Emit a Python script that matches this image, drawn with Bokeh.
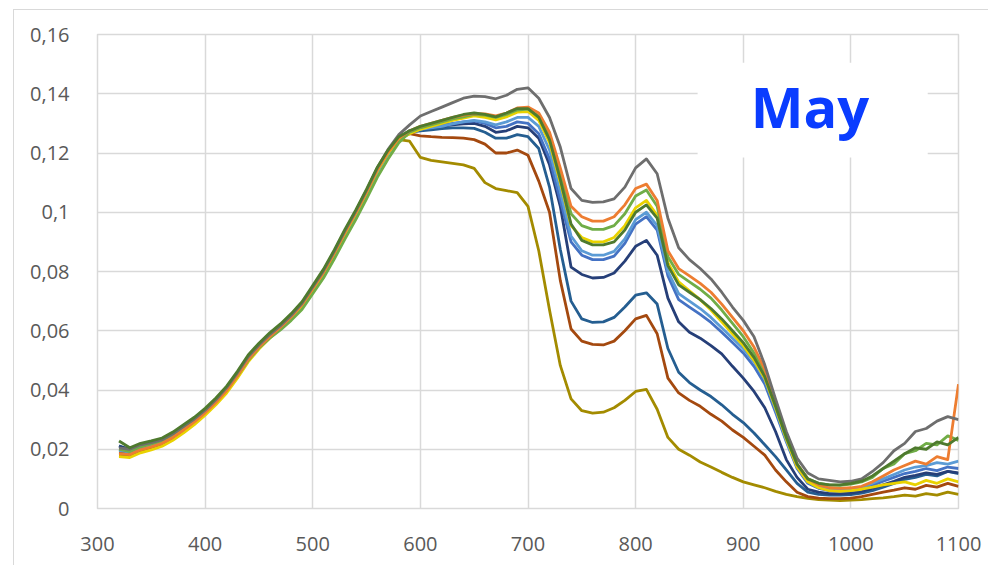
from bokeh.plotting import figure
from bokeh.models import FixedTicker, BoxAnnotation, Label
from bokeh.embed import file_html
from bokeh.resources import INLINE

# Wavelength grid (nm)
wavelength = list(range(320, 1101, 10))

# Reflectance spectra, one list per series (320 ... 1100 nm, 10 nm step)
gray = [0.0205, 0.0200, 0.0215, 0.0222, 0.0232, 0.0252, 0.0277, 0.0302, 0.0332, 0.0367,
        0.0408, 0.0458, 0.0512, 0.0552, 0.0587, 0.0617, 0.0652, 0.0693, 0.0748, 0.0803,
        0.0868, 0.0938, 0.1004, 0.1075, 0.1150, 0.1212, 0.1262, 0.1295,
        0.1325, 0.1340, 0.1355, 0.1370, 0.1385, 0.1392, 0.1390, 0.1383, 0.1395, 0.1415,
        0.1420, 0.1385, 0.1320, 0.1220, 0.1080, 0.1040, 0.1033, 0.1035, 0.1045, 0.1085,
        0.1150, 0.1180, 0.1130, 0.0980, 0.0880, 0.0840, 0.0810, 0.0775, 0.0730, 0.0680,
        0.0635, 0.0580, 0.0485, 0.0370, 0.0260, 0.0170, 0.0120, 0.0100, 0.0095, 0.0090,
        0.0092, 0.0100, 0.0125, 0.0155, 0.0195, 0.0220, 0.0260, 0.0270, 0.0295, 0.0310,
        0.0300]
orange = [0.0185, 0.0182, 0.0198, 0.0208, 0.0220, 0.0240, 0.0265, 0.0292, 0.0323, 0.0358,
          0.0398, 0.0448, 0.0503, 0.0545, 0.0580, 0.0612, 0.0647, 0.0688, 0.0742, 0.0797,
          0.0862, 0.0932, 0.0998, 0.1068, 0.1143, 0.1203, 0.1250, 0.1275,
          0.1290, 0.1300, 0.1310, 0.1320, 0.1328, 0.1333, 0.1332, 0.1325, 0.1335, 0.1352,
          0.1355, 0.1335, 0.1270, 0.1150, 0.1020, 0.0985, 0.0970, 0.0970, 0.0985, 0.1025,
          0.1080, 0.1095, 0.1040, 0.0870, 0.0810, 0.0785, 0.0760, 0.0730, 0.0690, 0.0645,
          0.0600, 0.0545, 0.0470, 0.0360, 0.0250, 0.0150, 0.0100, 0.0080, 0.0070, 0.0068,
          0.0070, 0.0075, 0.0090, 0.0110, 0.0130, 0.0145, 0.0160, 0.0150, 0.0175, 0.0165,
          0.0420]
light_green = [0.0200, 0.0192, 0.0208, 0.0218, 0.0228, 0.0248, 0.0272, 0.0297, 0.0327, 0.0362,
               0.0400, 0.0448, 0.0500, 0.0542, 0.0575, 0.0603, 0.0635, 0.0672, 0.0725, 0.0778,
               0.0842, 0.0910, 0.0975, 0.1045, 0.1118, 0.1180, 0.1235, 0.1270,
               0.1285, 0.1295, 0.1305, 0.1315, 0.1322, 0.1330, 0.1328, 0.1320, 0.1330, 0.1345,
               0.1348, 0.1325, 0.1255, 0.1130, 0.0995, 0.0955, 0.0942, 0.0942, 0.0955, 0.0995,
               0.1055, 0.1075, 0.1020, 0.0850, 0.0790, 0.0765, 0.0740, 0.0710, 0.0670, 0.0625,
               0.0580, 0.0525, 0.0455, 0.0350, 0.0245, 0.0150, 0.0100, 0.0085, 0.0080, 0.0078,
               0.0082, 0.0090, 0.0105, 0.0135, 0.0150, 0.0185, 0.0195, 0.0220, 0.0215, 0.0245,
               0.0230]
dark_green = [0.0228, 0.0205, 0.0220, 0.0228, 0.0238, 0.0258, 0.0283, 0.0308, 0.0338, 0.0373,
              0.0413, 0.0463, 0.0518, 0.0558, 0.0593, 0.0623, 0.0658, 0.0698, 0.0753, 0.0808,
              0.0873, 0.0943, 0.1008, 0.1078, 0.1152, 0.1210, 0.1255, 0.1275,
              0.1290, 0.1300, 0.1310, 0.1320, 0.1330, 0.1335, 0.1330, 0.1322, 0.1335, 0.1350,
              0.1350, 0.1320, 0.1245, 0.1110, 0.0960, 0.0905, 0.0890, 0.0890, 0.0900, 0.0940,
              0.1000, 0.1025, 0.0980, 0.0820, 0.0755, 0.0730, 0.0705, 0.0675, 0.0640, 0.0600,
              0.0560, 0.0510, 0.0445, 0.0345, 0.0240, 0.0150, 0.0100, 0.0085, 0.0080, 0.0080,
              0.0085, 0.0092, 0.0110, 0.0135, 0.0160, 0.0185, 0.0205, 0.0200, 0.0225, 0.0215,
              0.0240]
yellow = [0.0175, 0.0172, 0.0188, 0.0198, 0.0210, 0.0230, 0.0255, 0.0283, 0.0315, 0.0350,
          0.0390, 0.0440, 0.0495, 0.0538, 0.0575, 0.0607, 0.0642, 0.0683, 0.0738, 0.0793,
          0.0858, 0.0928, 0.0995, 0.1065, 0.1140, 0.1200, 0.1245, 0.1265,
          0.1280, 0.1290, 0.1300, 0.1310, 0.1318, 0.1325, 0.1320, 0.1312, 0.1322, 0.1338,
          0.1340, 0.1310, 0.1235, 0.1100, 0.0955, 0.0915, 0.0900, 0.0900, 0.0915, 0.0955,
          0.1015, 0.1040, 0.0990, 0.0830, 0.0765, 0.0735, 0.0705, 0.0670, 0.0630, 0.0590,
          0.0550, 0.0500, 0.0440, 0.0340, 0.0235, 0.0140, 0.0090, 0.0070, 0.0060, 0.0058,
          0.0060, 0.0065, 0.0072, 0.0080, 0.0085, 0.0090, 0.0080, 0.0095, 0.0085, 0.0100,
          0.0090]
light_blue = [0.0195, 0.0190, 0.0205, 0.0215, 0.0226, 0.0246, 0.0271, 0.0297, 0.0327, 0.0362,
              0.0402, 0.0452, 0.0506, 0.0547, 0.0582, 0.0611, 0.0645, 0.0684, 0.0738, 0.0792,
              0.0856, 0.0925, 0.0990, 0.1060, 0.1135, 0.1196, 0.1243, 0.1270,
              0.1280, 0.1285, 0.1290, 0.1298, 0.1305, 0.1310, 0.1305, 0.1295, 0.1305, 0.1320,
              0.1320, 0.1290, 0.1210, 0.1070, 0.0920, 0.0870, 0.0855, 0.0855, 0.0868, 0.0910,
              0.0975, 0.1000, 0.0955, 0.0800, 0.0725, 0.0700, 0.0675, 0.0645, 0.0610, 0.0575,
              0.0540, 0.0495, 0.0435, 0.0335, 0.0230, 0.0140, 0.0090, 0.0072, 0.0065, 0.0063,
              0.0065, 0.0072, 0.0085, 0.0100, 0.0115, 0.0130, 0.0140, 0.0145, 0.0155, 0.0150,
              0.0160]
blue = [0.0200, 0.0194, 0.0209, 0.0219, 0.0229, 0.0249, 0.0274, 0.0299, 0.0329, 0.0364,
        0.0404, 0.0454, 0.0509, 0.0549, 0.0584, 0.0614, 0.0649, 0.0689, 0.0744, 0.0799,
        0.0864, 0.0934, 0.0999, 0.1069, 0.1144, 0.1204, 0.1250, 0.1275,
        0.1283, 0.1290, 0.1295, 0.1300, 0.1305, 0.1308, 0.1300, 0.1285, 0.1290, 0.1305,
        0.1300, 0.1265, 0.1180, 0.1040, 0.0900, 0.0855, 0.0840, 0.0840, 0.0852, 0.0895,
        0.0960, 0.0985, 0.0940, 0.0785, 0.0705, 0.0680, 0.0655, 0.0628, 0.0595, 0.0560,
        0.0525, 0.0480, 0.0420, 0.0325, 0.0225, 0.0135, 0.0085, 0.0068, 0.0060, 0.0058,
        0.0060, 0.0066, 0.0078, 0.0092, 0.0105, 0.0118, 0.0125, 0.0135, 0.0128, 0.0140,
        0.0135]
navy = [0.0210, 0.0200, 0.0214, 0.0224, 0.0233, 0.0253, 0.0278, 0.0303, 0.0333, 0.0368,
        0.0408, 0.0458, 0.0512, 0.0552, 0.0587, 0.0617, 0.0652, 0.0692, 0.0747, 0.0802,
        0.0867, 0.0937, 0.1002, 0.1072, 0.1147, 0.1207, 0.1252, 0.1275,
        0.1280, 0.1285, 0.1290, 0.1295, 0.1298, 0.1300, 0.1290, 0.1270, 0.1275, 0.1290,
        0.1285, 0.1250, 0.1160, 0.1020, 0.0815, 0.0790, 0.0778, 0.0780, 0.0795, 0.0835,
        0.0885, 0.0905, 0.0855, 0.0710, 0.0630, 0.0595, 0.0575, 0.0550, 0.0522, 0.0480,
        0.0440, 0.0395, 0.0340, 0.0260, 0.0165, 0.0105, 0.0065, 0.0055, 0.0050, 0.0050,
        0.0052, 0.0058, 0.0068, 0.0080, 0.0092, 0.0105, 0.0112, 0.0120, 0.0115, 0.0125,
        0.0120]
steel_blue = [0.0212, 0.0198, 0.0212, 0.0222, 0.0232, 0.0252, 0.0276, 0.0301, 0.0331, 0.0366,
              0.0406, 0.0456, 0.0511, 0.0551, 0.0586, 0.0616, 0.0651, 0.0691, 0.0746, 0.0801,
              0.0866, 0.0936, 0.1001, 0.1071, 0.1146, 0.1206, 0.1251, 0.1270,
              0.1275, 0.1278, 0.1282, 0.1285, 0.1285, 0.1283, 0.1270, 0.1250, 0.1250, 0.1262,
              0.1255, 0.1215, 0.1085, 0.0875, 0.0700, 0.0640, 0.0628, 0.0630, 0.0645, 0.0680,
              0.0720, 0.0728, 0.0690, 0.0540, 0.0460, 0.0425, 0.0400, 0.0378, 0.0350, 0.0318,
              0.0290, 0.0255, 0.0215, 0.0175, 0.0130, 0.0085, 0.0055, 0.0048, 0.0045, 0.0045,
              0.0047, 0.0052, 0.0060, 0.0072, 0.0085, 0.0098, 0.0105, 0.0115, 0.0110, 0.0125,
              0.0118]
brown = [0.0190, 0.0185, 0.0200, 0.0210, 0.0222, 0.0242, 0.0267, 0.0293, 0.0324, 0.0359,
         0.0399, 0.0449, 0.0504, 0.0546, 0.0581, 0.0612, 0.0647, 0.0687, 0.0742, 0.0797,
         0.0862, 0.0932, 0.0998, 0.1068, 0.1143, 0.1203, 0.1248, 0.1265,
         0.1258, 0.1255, 0.1253, 0.1252, 0.1250, 0.1245, 0.1230, 0.1200, 0.1200, 0.1210,
         0.1192, 0.1105, 0.1000, 0.0770, 0.0606, 0.0565, 0.0554, 0.0552, 0.0565, 0.0600,
         0.0640, 0.0652, 0.0590, 0.0440, 0.0390, 0.0365, 0.0345, 0.0318, 0.0295, 0.0265,
         0.0240, 0.0210, 0.0180, 0.0130, 0.0090, 0.0055, 0.0040, 0.0035, 0.0033, 0.0033,
         0.0035, 0.0040, 0.0048, 0.0055, 0.0062, 0.0070, 0.0065, 0.0078, 0.0072, 0.0085,
         0.0075]
olive = [0.0180, 0.0176, 0.0192, 0.0202, 0.0214, 0.0234, 0.0259, 0.0287, 0.0319, 0.0354,
         0.0394, 0.0444, 0.0499, 0.0541, 0.0578, 0.0609, 0.0644, 0.0685, 0.0740, 0.0795,
         0.0860, 0.0930, 0.0996, 0.1066, 0.1141, 0.1200, 0.1245, 0.1240,
         0.1185, 0.1175, 0.1170, 0.1165, 0.1160, 0.1148, 0.1100, 0.1080, 0.1073, 0.1066,
         0.1020, 0.0870, 0.0670, 0.0483, 0.0370, 0.0330, 0.0322, 0.0325, 0.0340, 0.0365,
         0.0395, 0.0402, 0.0335, 0.0240, 0.0200, 0.0180, 0.0157, 0.0140, 0.0122, 0.0105,
         0.0090, 0.0080, 0.0070, 0.0058, 0.0048, 0.0040, 0.0034, 0.0030, 0.0028, 0.0027,
         0.0028, 0.0030, 0.0033, 0.0036, 0.0040, 0.0045, 0.0042, 0.0050, 0.0045, 0.0055,
         0.0048]

# Series in drawing order with their line colours
series = [
    (olive, "#A38B00"),
    (brown, "#A4490F"),
    (steel_blue, "#255E91"),
    (navy, "#263F78"),
    (blue, "#4472C4"),
    (light_blue, "#5B9BD5"),
    (yellow, "#E9D200"),
    (light_green, "#70AD47"),
    (orange, "#ED7D31"),
    (gray, "#6E6E6E"),
    (dark_green, "#4E7A2E"),
]

x_ticks = [300, 400, 500, 600, 700, 800, 900, 1000, 1100]
x_labels = ["300", "400", "500", "600", "700", "800", "900", "1000", "1100"]
y_ticks = [0, 0.02, 0.04, 0.06, 0.08, 0.1, 0.12, 0.14, 0.16]
y_labels = ["0", "0,02", "0,04", "0,06", "0,08", "0,1", "0,12", "0,14", "0,16"]

p = figure(width=975, height=556, x_range=(300, 1100), y_range=(0, 0.16),
           output_backend="svg", toolbar_location=None,
           min_border_left=83, min_border_right=31, min_border_top=24, min_border_bottom=58)
p.margin = (9, 0, 0, 13)
p.styles = {"border-left": "1px solid #d9d9d9", "border-top": "1px solid #d9d9d9"}
p.background_fill_color = "white"
p.border_fill_color = "white"
p.outline_line_color = "#d9d9d9"
p.outline_line_width = 1.5

for ax, ticks, labels in ((p.xaxis, x_ticks, x_labels), (p.yaxis, y_ticks, y_labels)):
    ax.ticker = FixedTicker(ticks=ticks)
    ax.major_label_overrides = {t: l for t, l in zip(ticks, labels)}
    ax.axis_line_color = None
    ax.major_tick_line_color = None
    ax.minor_tick_line_color = None
    ax.major_label_text_font = "Open Sans"
    ax.major_label_text_font_size = "20px"
    ax.major_label_text_color = "#595959"
    ax.major_label_standoff = 22

p.xgrid.ticker = FixedTicker(ticks=x_ticks)
p.ygrid.ticker = FixedTicker(ticks=y_ticks)
for g in (p.xgrid, p.ygrid):
    g.grid_line_color = "#d9d9d9"
    g.grid_line_width = 1.5

for values, color in series:
    p.line(wavelength, values, line_color=color, line_width=2.8, line_join="round")

# White panel with the month name
p.add_layout(BoxAnnotation(left=857.6, right=1071.4, bottom=0.1185, top=0.1505,
                           fill_color="white", fill_alpha=1.0, line_color=None))
p.add_layout(Label(x=962, y=0.1357, text="May", text_align="center",
                   text_baseline="alphabetic", text_font="Open Sans",
                   text_font_style="bold", text_font_size="56px", text_color="#0A3CFF"))

open("out.html", "w").write(file_html(p, INLINE))
